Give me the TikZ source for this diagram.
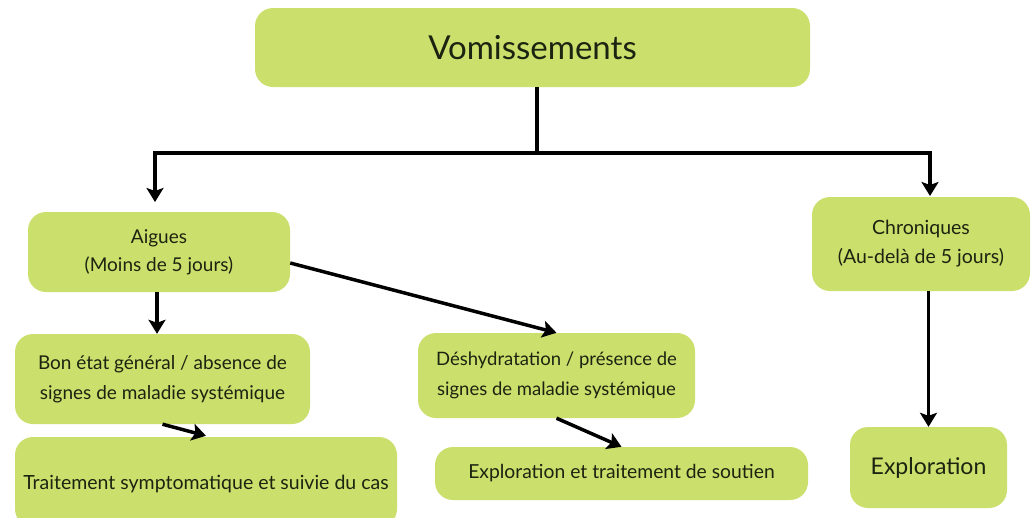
\documentclass[tikz,border=0pt]{standalone}
\usepackage{fontspec}
\setmainfont{Lato}
\usetikzlibrary{arrows.meta,calc}
\definecolor{boxgreen}{HTML}{CBDF6C}
\definecolor{txt}{HTML}{1A2410}
\begin{document}
\begin{tikzpicture}[x=1pt,y=-1pt,
  box/.style={fill=boxgreen,draw=none,rounded corners=18pt,inner sep=0pt,align=center,text=txt,font=\fontsize{19}{28}\selectfont},
  arr/.style={line width=3.5pt,-{Stealth[length=14pt,width=17pt,inset=3pt]}},
  ln/.style={line width=3.5pt}]
\useasboundingbox (0,0) rectangle (1032,517);
\fill[white] (0,0) rectangle (1032,517);
\node[box,minimum width=555pt,minimum height=79pt,font=\fontsize{33}{40}\selectfont] (vom) at (532.5,47.5) {Vomissements};
\node[box,minimum width=262pt,minimum height=80pt] (aig) at (159,252) {Aigues\\(Moins de 5 jours)};
\node[box,minimum width=218pt,minimum height=94pt,font=\fontsize{19.5}{29}\selectfont] (chr) at (921,244) {Chroniques\\(Au-delà de 5 jours)};
\node[box,minimum width=295pt,minimum height=90pt,font=\fontsize{19}{30}\selectfont] (bon) at (162.5,379) {Bon état général / absence de\\signes de maladie systémique};
\node[box,minimum width=382pt,minimum height=90pt,text depth=0pt,font=\fontsize{19.5}{30}\selectfont] (tra) at (206,482) {\raisebox{0pt}{Traitement symptomatique et suivie du cas}};
\node[box,minimum width=277pt,minimum height=85pt,font=\fontsize{18.5}{30}\selectfont] (des) at (556.5,375.5) {Déshydratation / présence de\\signes de maladie systémique};
\node[box,minimum width=373pt,minimum height=53pt,font=\fontsize{19.3}{30}\selectfont] (exs) at (621.5,473.5) {Exploration et traitement de soutien};
\node[box,minimum width=157pt,minimum height=81pt,font=\fontsize{23}{30}\selectfont] (exr) at (928.5,467.5) {Exploration};
\coordinate (jn) at (537,153);
\coordinate (aigtop) at (155,202);
\coordinate (chrtop) at (930,196);
\draw[ln] (vom.south -| jn) -- (jn);
\draw[arr] (jn) -| (aigtop);
\draw[arr] (jn) -| (chrtop);
\draw[arr] ([xshift=-2pt]aig.south) -- ([xshift=-2pt]aig.south |- bon.north);
\draw[arr] ([yshift=-11pt]aig.east) -- (des.north);
\draw[arr] (bon.south) -- ([yshift=1pt]tra.north);
\draw[arr] (des.south) -- (exs.north);
\draw[arr] (exr.north |- chr.south) -- (exr.north);
\end{tikzpicture}
\end{document}
